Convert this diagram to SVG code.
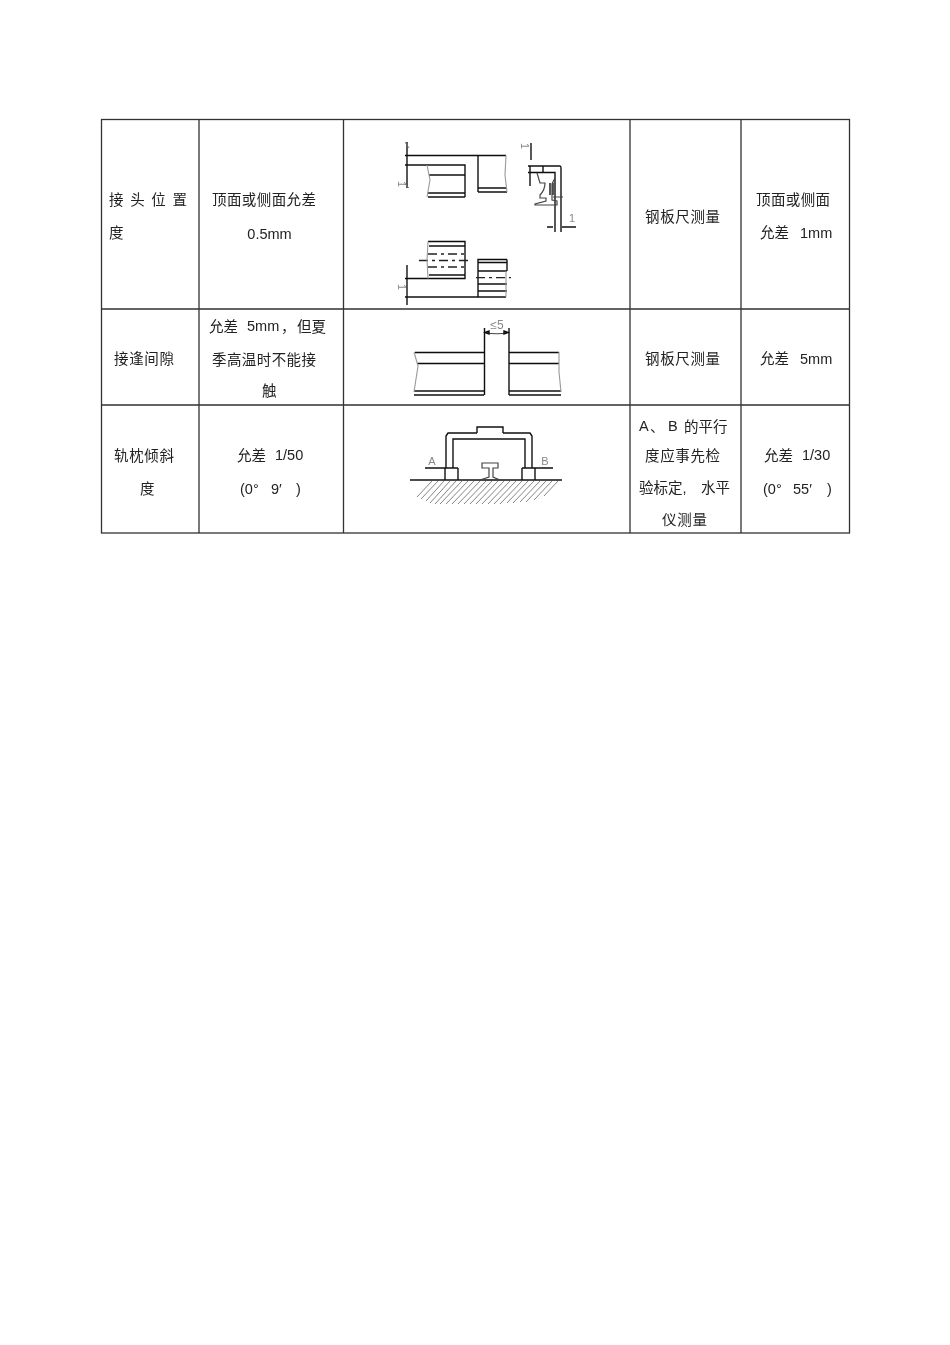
<svg xmlns="http://www.w3.org/2000/svg" width="950" height="1345" viewBox="0 0 950 1345">
<defs>
<filter id="soft" x="-5%" y="-5%" width="110%" height="110%"><feGaussianBlur stdDeviation="0.45"/></filter>
<filter id="softer" x="-5%" y="-5%" width="110%" height="110%"><feGaussianBlur stdDeviation="0.28"/></filter>
</defs>
<style>
text{font-family:"Liberation Sans","Noto Sans CJK SC",sans-serif;font-size:14.5px;fill:#222}
.k{stroke:#111;stroke-width:1.4;fill:none}
.g{stroke:#444;stroke-width:1.2;fill:none}
.l{stroke:#999;stroke-width:1.1;fill:none}
.d{stroke:#222;stroke-width:1.3;fill:none;stroke-dasharray:9 4 3 4}
.s{font-size:11px;fill:#888}
.h{stroke:#777;stroke-width:.9;fill:none}
</style>
<rect width="950" height="1345" fill="#fff"/>
<g id="table" stroke="#333" stroke-width="1.3" fill="none" filter="url(#softer)">
<rect x="101.500" y="119.500" width="748" height="413.500"/>
<path d="M199 119.500V533M343.500 119.500V533M630 119.500V533M741 119.500V533M101.500 309H849.500M101.500 405H849.500"/>
</g>
<g id="text-row1" filter="url(#softer)">
<text x="109" y="204.500" textLength="78" lengthAdjust="spacing">接 头 位 置</text>
<text x="109" y="237.500">度</text>
<text x="212" y="204.500" textLength="104" lengthAdjust="spacing">顶面或侧面允差</text>
<text x="269.500" y="239" text-anchor="middle">0.5mm</text>
<text x="645" y="221.500" textLength="75" lengthAdjust="spacing">钢板尺测量</text>
<text x="756" y="204.500" textLength="74" lengthAdjust="spacing">顶面或侧面</text>
<text x="760" y="237.500">允差</text><text x="800" y="237.500">1mm</text>
</g>
<g id="text-row2" filter="url(#softer)">
<text x="114" y="363.500" textLength="60" lengthAdjust="spacing">接逢间隙</text>
<text x="209" y="331.500">允差</text><text x="247" y="331">5mm</text><text x="281" y="331.500">，</text><text x="297" y="331.500">但夏</text>
<text x="212" y="364.500" textLength="104" lengthAdjust="spacing">季高温时不能接</text>
<text x="262" y="395.500">触</text>
<text x="645" y="363.500" textLength="75" lengthAdjust="spacing">钢板尺测量</text>
<text x="760" y="363.500">允差</text><text x="800" y="363.500">5mm</text>
</g>
<g id="text-row3" filter="url(#softer)">
<text x="114" y="460.500" textLength="60" lengthAdjust="spacing">轨枕倾斜</text>
<text x="140" y="493.500">度</text>
<text x="237" y="460.500">允差</text><text x="275" y="460">1/50</text>
<text x="240" y="494">(0°</text><text x="271" y="494">9′</text><text x="296" y="494">)</text>
<text x="639" y="431">A</text><text x="650" y="431.500">、</text><text x="668" y="431">B</text><text x="684" y="431.500">的平行</text>
<text x="645" y="460.500" textLength="75" lengthAdjust="spacing">度应事先检</text>
<text x="639" y="492.500">验标定,</text><text x="701" y="492.500">水平</text>
<text x="662" y="524.500" textLength="45" lengthAdjust="spacing">仪测量</text>
<text x="764" y="460.500">允差</text><text x="802" y="460">1/30</text>
<text x="763" y="494">(0°</text><text x="793" y="494">55′</text><text x="827" y="494">)</text>
</g>
<g id="figure-joint-position" filter="url(#soft)">
<path class="k" d="M407 142V188M405 155.500H506M405 165H465V197M478 155.500V192M465 175H429M428 193H465M428 197H465M478 188H506M478 192H507"/>
<path class="l" d="M427 165L430 180L427 197M506 155.500L505 175L507 192"/>
<path class="k" d="M531 143V160M528 166H560Q561 166 561 168V232M528 172.500H555V232M530 166V186M543 166V172.500M550 183V195M553 183V195"/>
<path class="g" d="M537 173L540 183H545Q545 190 540 195V198H546V201L535 204V205H557V201L552 200V184L555 178M553 197H563"/>
<path class="k" d="M547 227H553M562 227H576"/>
<path class="h" d="M405 142L409 148M405 184L409 188"/>
<text class="s" transform="translate(398 184) rotate(90)" text-anchor="middle">1</text>
<text class="s" transform="translate(521 146) rotate(90)" text-anchor="middle">1</text>
<text class="s" x="572" y="222" text-anchor="middle">1</text>
<path class="k" d="M407 265V305M405 278.500H465V241.500H428M405 297H506M478 297V259.500H507M478 262.500H507M478 271H507M478 284H507M478 291H507M507 259.500V271M429 246H465M429 275H465"/>
<path class="d" d="M428 254H465M419 260.500H470M428 267H465M476 277.700H511"/>
<path class="l" d="M428 241.500L427 260L428 278.500M506 271V297"/>
<text class="s" transform="translate(398 287) rotate(90)" text-anchor="middle">1</text>
</g>
<g id="figure-gap" filter="url(#soft)">
<path class="k" d="M484.500 328V395M509 328V395M415 352.500H484M509 352.500H559M417 363.500H484M509 363.500H559M414 391H484M509 391H561M414 395H484M509 395H561"/>
<path class="l" d="M414 352L418 366L414 392M559 352V372L561 392"/>
<path class="g" d="M485 332.500Q497 335 508 332.500"/>
<path class="k" d="M485 332.500L489 331V334ZM508 332.500L504 331V334Z"/>
<text class="s" x="497" y="329" text-anchor="middle" font-size="12" style="font-size:12px">≤5</text>
</g>
<g id="figure-tilt" filter="url(#soft)">
<path class="k" d="M410 480H562M425 468H458M522 468H553M445 468V480M458 468V480M522 468V480M535 468V480"/>
<path class="k" d="M446 468V436L448 433H477M503 433H530L532 436V468M453 468V439H525V468M477 433V427H503V433"/>
<path class="g" d="M482 463H498V468H493V477L500 480H480L489 477V468H482Z"/>
<path class="h" d="M432 481l-15 16M438 481l-17 18M444 481l-18 20M450 481l-20 22M456 481l-21 23M462 481l-22 23M468 481l-22 23M474 481l-22 23M480 481l-22 23M486 481l-22 23M492 481l-22 23M498 481l-22 23M504 481l-22 23M510 481l-22 23M516 481l-22 23M522 481l-22 23M528 481l-21 22M534 481l-21 22M540 481l-20 21M546 481l-20 21M552 481l-18 19M558 481l-14 15"/>
<text class="s" x="432" y="465" text-anchor="middle">A</text>
<text class="s" x="545" y="465" text-anchor="middle">B</text>
</g>
</svg>
